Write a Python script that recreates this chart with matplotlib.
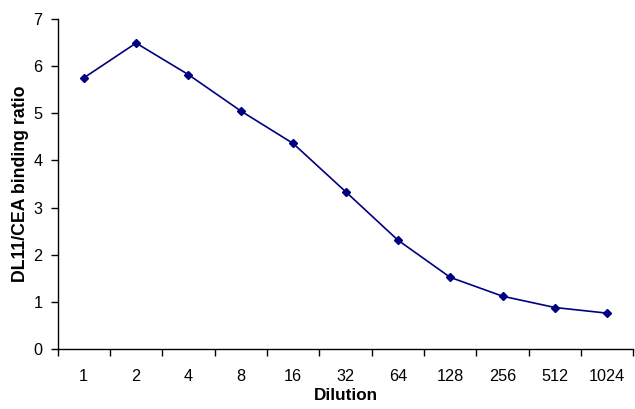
import matplotlib
matplotlib.use("Agg")
import matplotlib.pyplot as plt
import numpy as np

dilutions = ["1", "2", "4", "8", "16", "32", "64", "128", "256", "512", "1024"]
ratio = [5.75, 6.49, 5.82, 5.05, 4.36, 3.34, 2.31, 1.52, 1.12, 0.88, 0.76]

plt.rcParams['font.family'] = ['Liberation Sans', 'DejaVu Sans']

fig = plt.figure(figsize=(6.35, 4.09), dpi=100)
ax = fig.add_axes([0.0906, 0.1467, 0.907, 0.8068])

x = np.arange(len(dilutions))
ax.plot(x, ratio, color='#000080', marker='D', markersize=4.5, linewidth=1.2)

ax.set_xlim(-0.5, len(dilutions) - 0.5)
ax.set_ylim(0, 7)
ax.set_yticks(range(0, 8))
ax.set_xticks(x)
ax.set_xticklabels(dilutions)
ax.set_xticks(np.arange(-0.5, len(dilutions)), minor=True)
ax.tick_params(axis='x', which='major', length=0, pad=14.5, labelsize=11.7)
ax.tick_params(axis='x', which='minor', length=5, direction='out', width=1)
ax.tick_params(axis='y', length=5, direction='out', width=1, labelsize=11.7, pad=6)

for s in ['top', 'right']:
    ax.spines[s].set_visible(False)
for s in ['left', 'bottom']:
    ax.spines[s].set_linewidth(1)

ax.set_xlabel('Dilution', fontsize=12.3, fontweight='bold', labelpad=3)
ax.set_ylabel('DL11/CEA binding ratio', fontsize=12.8, fontweight='bold', labelpad=3)

fig.savefig('out.png', dpi=100)
